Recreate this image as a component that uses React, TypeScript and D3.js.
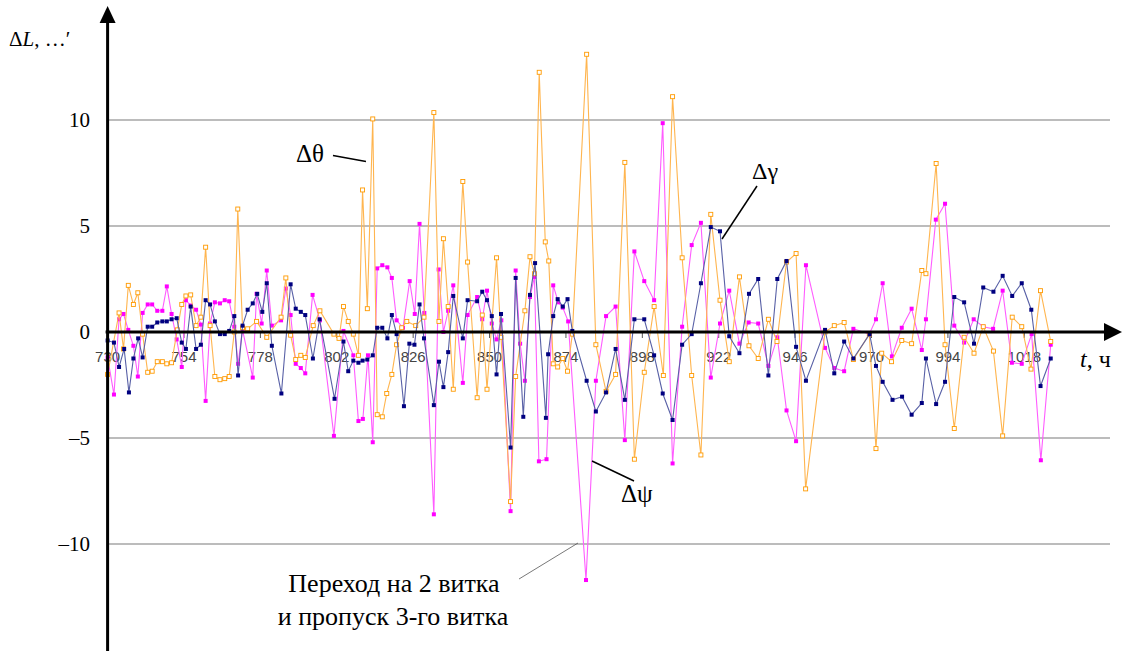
import * as d3 from "d3";

type Pt = [number, number];

const yTickValues = [-10, -5, 0, 5, 10];
const gridValues = [-10, -5, 5, 10];
const xTickLabels = [730, 754, 778, 802, 826, 850, 874, 898, 922, 946, 970, 994, 1018];

// Δθ (orange, hollow markers): [hour, value]
const thetaPoints: Pt[] = [
  [730, -2.0], [733.6, 0.9], [735, -0.8], [736.5, 2.2], [738.1, 1.3], [739.5, 1.85],
  [741, -0.1], [742.6, -1.9], [744, -1.85], [745.6, -1.4], [747.2, -1.4], [748.6, -1.5],
  [750.1, -1.45], [751.9, 0.1], [753.3, 1.3], [754.6, 1.7], [756.1, 1.75], [757.8, 0.3],
  [759.3, 0.7], [760.8, 4.0], [762.2, 0.3], [763.7, -2.1], [765.3, -2.25], [766.8, -2.2],
  [768.2, -2.1], [769.8, 0.0], [770.9, 5.8], [772.4, 0.2], [774, 0.15], [776.8, 0.5],
  [780, -0.25], [784.5, 0.7], [786, 2.55], [787.5, -0.15], [789.1, -1.3], [790.7, -1.1],
  [792.1, -1.2], [794.6, 0.3], [796.7, 1.0], [801.1, -0.1], [802.7, -0.3], [804.1, 1.2],
  [805.6, 0.5], [807.2, -0.1], [808.8, -1.1], [810.1, 6.7], [811.6, 1.1], [813.3, 10.05],
  [814.7, -3.9], [816.3, -4.0], [817.7, -2.9], [819.3, -2.0], [820.8, -0.6], [822.4, 0.2],
  [824, 0.5], [826.8, 0.3], [829.4, 0.7], [832.5, 10.35], [834.1, 0.5], [835.5, 4.4],
  [837, 1.2], [838.6, -2.7], [841.6, 7.1], [843.1, 3.3], [846.1, -3.1], [847.7, 0.8],
  [849.2, -2.7], [852.2, 3.5], [853.6, -0.25], [856.6, -8.0], [858.2, -2.1], [861.1, 1.0],
  [862.7, 3.55], [864.1, 2.75], [865.6, 12.25], [867.5, 4.25], [868.6, 3.35], [870, -1.5],
  [871.4, -1.65], [873, -1.25], [874.5, -1.85], [876, -0.1], [880.5, 13.1], [883.4, -0.6],
  [886.6, -2.8], [889.6, -2.0], [892.5, 8.0], [895.5, -6.0], [898.6, -1.9], [901.7, 1.2],
  [904.6, -2.05], [907.5, 11.1], [910.5, 3.5], [913.5, -2.05], [916.4, -5.8], [919.5, 5.55],
  [922.4, 1.5], [925.3, -1.4], [928.5, 2.6], [931.5, -0.65], [934.4, -1.25], [937.6, 0.6],
  [940.3, -0.45], [943.3, 3.3], [946.3, 3.7], [949.3, -7.4], [955.4, 0.0], [958.3, 0.3],
  [961.4, 0.45], [964.3, -1.3], [969.3, -0.1], [971.4, -5.5], [973.2, -1.0], [976.3, -1.4],
  [979.5, -0.4], [982.6, -0.55], [985.8, 2.9], [987.1, 2.75], [990.3, 7.95], [993.1, -0.6],
  [996, -4.55], [999.1, -0.25], [1002.2, -1.0], [1005.1, 0.25], [1008.3, -0.9], [1011.2, -4.9],
  [1014.2, 0.7], [1017.2, 0.25], [1020.1, -1.75], [1023.1, 1.95], [1026.3, -0.45],
];

// Δψ (magenta)
const psiPoints: Pt[] = [
  [730, -1.2], [732, -2.95], [733.6, 0.6], [735, 0.85], [736.5, 0.1], [738.1, -0.65],
  [739.5, -2.1], [741, 0.9], [742.6, 1.3], [744, 1.3], [745.6, 1.0], [747.2, 1.0],
  [748.6, 2.15], [750.1, 0.85], [751.7, -0.35], [753.3, -1.65], [754.6, 1.5], [756.1, 1.25],
  [757.8, 1.05], [759.3, 0.35], [760.8, -3.25], [762.2, 0.4], [763.7, 1.4], [765.3, 1.35],
  [766.8, 1.5], [768.2, 1.45], [769.8, 0.25], [771, -1.5], [772.4, 0.1], [775.6, -2.15],
  [776.8, 1.8], [778.4, 0.4], [780, 2.9], [781.6, 0.3], [784.5, 0.55], [786, 2.05],
  [787.5, 0.8], [789.1, -1.5], [790.7, -1.7], [792.1, -1.95], [794.4, 1.75], [796.7, 0.55],
  [801.1, -4.9], [804.1, 0.05], [807.2, -1.1], [808.8, -4.2], [810.2, -4.1], [811.8, -1.1],
  [813.3, -5.2], [814.7, 3.0], [816.3, 3.15], [817.9, 3.05], [819.3, 2.55], [820.8, 0.55],
  [822.8, 0.2], [824.9, 2.4], [826.5, 0.85], [828, 5.1], [829.5, 0.9], [832.5, -8.6],
  [834, 2.95], [835.5, 0.0], [837, 1.0], [838.6, 2.2], [841.6, -2.4], [843.1, 0.8],
  [846.1, 1.65], [847.7, 0.6], [849.2, 1.95], [850.7, 0.4], [852.2, -0.35], [853.7, 0.55],
  [856.6, -8.45], [858.2, 2.9], [859.6, -0.55], [861.1, -2.3], [862.7, 1.65], [864.1, 2.6],
  [865.5, -6.1], [867.9, -6.0], [870, 2.2], [871.6, 1.4], [873, 1.15], [874.7, 0.5],
  [880.3, -11.7], [883.4, -2.3], [886.6, 0.75], [889.6, 1.2], [892.5, -5.1], [895.5, 3.8],
  [898.6, 2.4], [901.7, 1.5], [904.4, 9.85], [907.5, -6.2], [910.5, 0.25], [913.5, 4.1],
  [916.4, 5.15], [919.5, -2.15], [922.4, 0.4], [925.3, 1.95], [928.5, -0.55], [931.4, 0.45],
  [934.4, 0.4], [937.6, -1.6], [940.4, -0.25], [943.3, -3.7], [946.3, -5.15], [949.4, 3.15],
  [955.4, -0.75], [958.3, -1.7], [961.4, -1.85], [964.3, 0.15], [969.3, -0.1], [971.4, 0.6],
  [973.5, 2.3], [976.4, -1.15], [979.5, 0.2], [982.6, 1.1], [985.8, -0.85], [987.1, 0.6],
  [990.2, 5.3], [993.1, 6.05], [996, 0.3], [999.1, -0.5], [1002.1, 0.6], [1005.1, 0.25],
  [1008.2, 0.15], [1011.2, 1.95], [1014.1, -1.45], [1017.2, -1.5], [1020.3, -0.1],
  [1023.2, -6.05], [1026.3, -0.6],
];

// Δγ (navy)
const gammaPoints: Pt[] = [
  [730, -0.4], [732, -0.5], [733.6, -1.65], [735.2, -0.8], [736.7, -2.85], [738.1, -1.25],
  [739.6, -0.3], [741, -1.2], [742.6, 0.25], [744, 0.25], [745.6, 0.45], [747.2, 0.5],
  [748.6, 0.5], [750.1, 0.6], [751.7, 0.65], [753.3, -0.5], [754.6, -0.8], [756.1, 1.2],
  [757.8, -0.8], [759.3, -0.6], [760.8, 1.5], [762.2, 1.3], [763.7, 0.5], [765.3, -0.1],
  [766.8, -0.1], [768.2, 0.05], [769.8, 0.75], [771, -2.05], [772.4, 0.3], [774, 1.05],
  [775.6, 1.35], [777, 1.8], [778.6, 0.95], [780, 2.3], [781.6, -0.65], [784.6, -2.9],
  [787.5, 2.25], [789.1, 1.1], [790.7, 0.95], [792.1, 0.8], [794.5, -1.25], [796.6, 0.6],
  [801.3, -3.15], [804.1, -0.45], [805.6, -1.85], [807.2, -1.35], [808.8, -1.45], [810.1, -1.35],
  [811.6, -1.3], [813.3, -1.1], [814.7, 0.2], [816.3, 0.2], [817.9, -0.3], [819.3, 0.8],
  [820.8, -0.1], [823.1, -3.5], [824.8, -0.55], [826.4, -0.6], [828, 1.3], [829.4, -0.3],
  [832.5, -3.45], [834.1, -1.4], [835.5, -2.6], [837, -0.95], [838.6, 1.7], [841.6, -0.3],
  [843.1, 1.5], [846.1, 1.45], [847.7, 1.9], [849.2, 1.5], [850.7, 0.75], [852.2, -2.0],
  [853.6, 0.85], [856.6, -5.45], [858.2, 2.55], [860.6, -4.0], [862.7, 1.75], [864.3, 3.25],
  [867.7, -4.05], [868.4, -1.05], [870, 0.75], [871.4, 1.55], [873, 1.2], [874.5, 1.55],
  [876, 0.05], [880.5, -2.3], [883.4, -3.75], [886.6, -2.85], [889.6, -0.8], [892.5, -3.2],
  [895.5, 0.6], [898.6, 0.6], [901.7, -1.1], [904.4, -2.9], [907.5, -4.15], [910.5, -0.6],
  [913.5, -0.1], [916.4, 2.3], [919.5, 4.95], [922.4, 4.75], [925.3, -0.2], [928.5, -1.0],
  [931.5, 1.8], [934.4, 2.5], [937.6, -2.05], [940.4, 2.5], [943.3, 3.35], [946.3, -0.7],
  [949.4, -2.3], [955.4, 0.1], [958.3, -1.95], [961.4, -0.45], [964.3, -1.25], [969.4, -0.1],
  [971.4, -1.6], [973.5, -2.35], [976.6, -3.2], [979.6, -3.05], [982.6, -3.9], [985.8, -3.35],
  [987.1, -1.25], [990.3, -3.4], [993.1, -2.35], [996, 1.65], [999.1, 1.4], [1002.2, -0.55],
  [1005.1, 2.1], [1008.3, 1.9], [1011.2, 2.65], [1014.2, 1.7], [1017.2, 2.3], [1020.2, 1.05],
  [1023.1, -2.55], [1026.3, -1.25],
];

const serif = "Liberation Serif, DejaVu Serif, serif";
const sans = "Liberation Sans, Arial, sans-serif";

function Series({ points, x, y, lineColor, markerFill, markerStroke }) {
  const line = d3
    .line<Pt>()
    .x((d) => x(d[0]))
    .y((d) => y(d[1]));
  const s = 4;
  return (
    <g>
      <path d={line(points) ?? ""} fill="none" stroke={lineColor} strokeWidth={1.1} />
      {points.map((d, i) => (
        <rect
          key={i}
          x={x(d[0]) - s / 2}
          y={y(d[1]) - s / 2}
          width={s}
          height={s}
          fill={markerFill}
          stroke={markerStroke}
          strokeWidth={markerStroke === "none" ? 0 : 0.9}
        />
      ))}
    </g>
  );
}

export default function App() {
  const width = 1123;
  const height = 651;
  const axisX = 107.6;
  const x = d3.scaleLinear().domain([730, 1018]).range([axisX, 1024.3]);
  const y = d3.scaleLinear().domain([-10, 10]).range([544, 120]);
  const y0 = y(0);

  return (
    <svg
      width={width}
      height={height}
      viewBox={`0 0 ${width} ${height}`}
      style={{ position: "absolute", left: 0, top: 0, background: "#fff" }}
    >
      <rect width={width} height={height} fill="#fff" />

      {/* grid */}
      {gridValues.map((v) => (
        <line key={v} x1={axisX} x2={1110} y1={y(v)} y2={y(v)} stroke="#7a7a7a" strokeWidth={1.2} />
      ))}

      {/* y labels */}
      {yTickValues.map((v) => (
        <text
          key={v}
          x={90}
          y={y(v)}
          dy="0.35em"
          textAnchor="end"
          style={{ fontFamily: serif, fontSize: 21 }}
        >
          {v < 0 ? `\u2013${Math.abs(v)}` : v}
        </text>
      ))}

      {/* x tick labels */}
      {xTickLabels.map((t) => (
        <g key={t} transform={`translate(${x(t)},0)`}>
          <line y1={y0} y2={y0 + 6} stroke="#555" strokeWidth={1} />
          <text y={y0 + 30} textAnchor="middle" fill="#444" style={{ fontFamily: sans, fontSize: 15 }}>
            {t}
          </text>
        </g>
      ))}

      <Series points={psiPoints} x={x} y={y} lineColor="#ff5cff" markerFill="#ff00ff" markerStroke="none" />
      <Series points={thetaPoints} x={x} y={y} lineColor="#ffb54f" markerFill="#ffffff" markerStroke="#ff9a00" />
      <Series points={gammaPoints} x={x} y={y} lineColor="#5860a6" markerFill="#000080" markerStroke="none" />

      {/* axes */}
      <line x1={axisX - 2} x2={1106} y1={y0} y2={y0} stroke="#000" strokeWidth={3} />
      <polygon points={`1104,${y0 - 9} 1122,${y0} 1104,${y0 + 9}`} fill="#000" />
      <line x1={axisX} x2={axisX} y1={20} y2={651} stroke="#000" strokeWidth={3} />
      <polygon points={`${axisX - 8},23 ${axisX},6 ${axisX + 8},23`} fill="#000" />

      <g style={{ fontFamily: serif }}>
        {/* axis titles */}
        <text x={9} y={46} fontSize={21}>
          {"\u0394"}
          <tspan fontStyle="italic">L</tspan>
          {", \u2026\u2032"}
        </text>
        <text x={1080} y={367} fontSize={24}>
          <tspan fontStyle="italic">t</tspan>
          {", ч"}
        </text>

        {/* series annotations */}
        <text x={296} y={162} fontSize={25}>
          {"\u0394\u03b8"}
        </text>
        <line x1={333} y1={155.5} x2={366} y2={161.5} stroke="#000" strokeWidth={1.5} />

        <text x={752} y={179} fontSize={24}>
          {"\u0394\u03b3"}
        </text>
        <line x1={757} y1={186} x2={722} y2={239} stroke="#000" strokeWidth={1.5} />

        <text x={621} y={502} fontSize={25}>
          {"\u0394\u03c8"}
        </text>
        <line x1={592} y1={461} x2={634} y2={481} stroke="#000" strokeWidth={1.5} />

        <line x1={519} y1={579} x2={578} y2={543} stroke="#555" strokeWidth={0.8} />
        <text x={394} y={592} textAnchor="middle" fontSize={26}>
          Переход на 2 витка
        </text>
        <text x={393} y={625} textAnchor="middle" fontSize={26}>
          и пропуск 3-го витка
        </text>
      </g>
    </svg>
  );
}
